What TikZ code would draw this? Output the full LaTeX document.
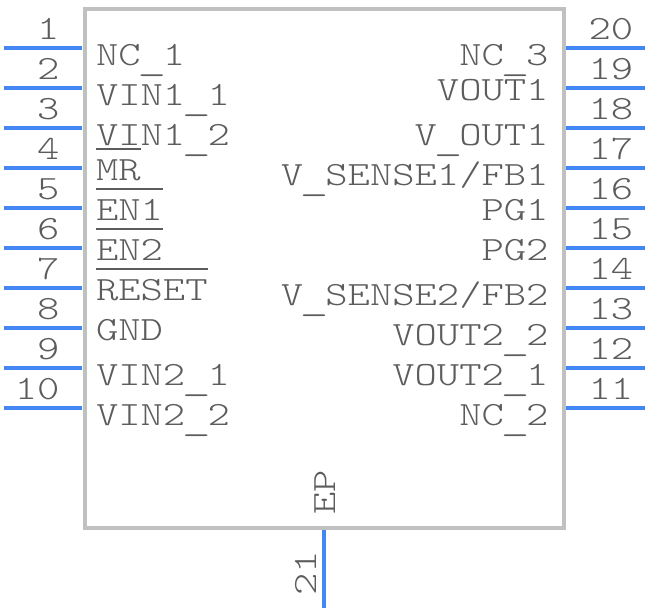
\documentclass[tikz,border=0pt]{standalone}
\usepackage{fontspec}
\newfontfamily\pinfont[FakeStretch=1.25]{Latin Modern Mono Light}
\definecolor{bodygray}{RGB}{192,192,192}
\definecolor{pinblue}{RGB}{66,135,245}
\definecolor{textgray}{RGB}{92,92,92}
% bar over an active-low pin name
\newcommand{\pinbar}[1]{\setbox0=\hbox{#1}\rlap{\raisebox{22.5pt}{\rule{\wd0}{1.5pt}}}#1}
% low, wide underscore
\newcommand{\pinus}{\setbox0=\hbox{\_}\hbox to \wd0{\hss\raisebox{-3.75pt}{\scalebox{1.3}[1]{\_}}\hss}}
\tikzset{
  every picture/.style={line width=0.75pt},
  pinline/.style={draw=pinblue,line width=3pt},
  bodyline/.style={draw=bodygray,line width=3pt},
  pintext/.style={font=\pinfont\fontsize{25.5}{25.5}\selectfont,text=textgray,inner sep=0pt}
}
\begin{document}
\begin{tikzpicture}[x=0.75pt,y=0.75pt,yscale=-1]
\useasboundingbox (0,0) rectangle (648,612);

%body
\draw [bodyline] (84.5,8.5) rectangle (564,527.5);

%left pins
\foreach \n/\y in {1/48,2/88,3/128,4/168,5/208,6/248,7/288,8/328,9/368,10/408}{
  \coordinate (pinL\n a) at (82,\y);
  \coordinate (pinL\n b) at (4,\y);
  \draw [pinline] (pinL\n a) -- (pinL\n b);
  \node (numL\n) [pintext,anchor=base east] at (60,\y-8.5) {\n};
}
%right pins
\foreach \n/\y in {20/48,19/88,18/128,17/168,16/208,15/248,14/288,13/328,12/368,11/408}{
  \coordinate (pinR\n a) at (566,\y);
  \coordinate (pinR\n b) at (645,\y);
  \draw [pinline] (pinR\n a) -- (pinR\n b);
  \node (numR\n) [pintext,anchor=base west] at (588,\y-8.5) {\n};
}
%bottom pin
\coordinate (pinB21a) at (324,530);
\coordinate (pinB21b) at (324,608);
\draw [pinline] (pinB21a) -- (pinB21b);
\node (numB21) [pintext,anchor=base west,rotate=90] at (316,596) {21};
\node (nameEP) [pintext,anchor=base west,rotate=90] at (335,515) {EP};

%left names
\foreach \k/\y/\t in {a/65/{NC\pinus 1},b/105/{VIN1\pinus 1},c/145/{VIN1\pinus 2},d/180/{\pinbar{MR}},
    e/220/{\pinbar{EN1}},f/260/{\pinbar{EN2}},g/300/{\pinbar{RESET}},h/340/{GND},
    i/385/{VIN2\pinus 1},j/425/{VIN2\pinus 2}}{
  \node (nameL\k) [pintext,anchor=base west] at (95.5,\y) {\t};
}
%right names
\foreach \k/\y/\t in {a/65/{NC\pinus 3},b/100/{VOUT1},c/145/{V\pinus OUT1},d/185/{V\pinus SENSE1/FB1},
    e/220/{PG1},f/260/{PG2},g/305/{V\pinus SENSE2/FB2},h/345/{VOUT2\pinus 2},
    i/385/{VOUT2\pinus 1},j/425/{NC\pinus 2}}{
  \node (nameR\k) [pintext,anchor=base east] at (549,\y) {\t};
}
\end{tikzpicture}
\end{document}
